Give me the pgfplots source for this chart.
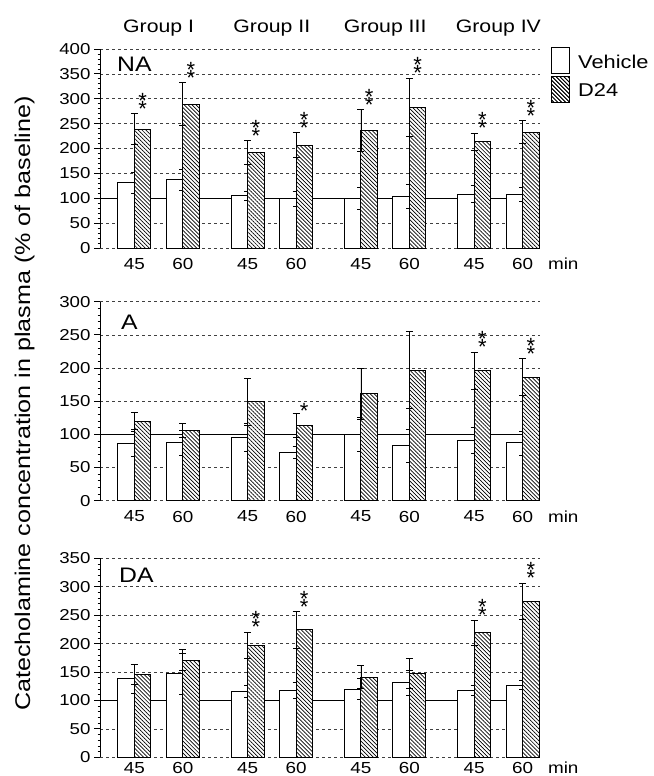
\documentclass[border=0pt]{standalone}
\usepackage{pgfplots}
\pgfplotsset{compat=1.18}
\usepackage{pgfplotstable}
\usepackage{fontspec}
\setmainfont{Liberation Sans}[FakeStretch=1.18]
\newfontfamily\starfont{Liberation Sans}
\usetikzlibrary{patterns.meta}

\pgfplotstableread{
x v ve d de
0 131 21 239 31
1 137 21 289 43
2.34 105 9 192 24
3.34 99 15 207 25
4.68 100 22 236 42
5.68 104 24 283 58
7.02 108 17 214 17
8.02 108 14 233 23
}\NAdata
\pgfplotstableread{
x v ve d de
0 86 19 120 13
1 87 19 106 11
2.34 96 21 149 35
3.34 73 9 114 18
4.68 100 26 161 38
5.68 83 25 197 58
7.02 91 20 196 28
8.02 87 18 186 28
}\Adata
\pgfplotstableread{
x v ve d de
0 138 26 146 18
1 147 36 171 18
2.34 116 10 197 23
3.34 117 14 224 32
4.68 120 18 141 20
5.68 131 22 148 26
7.02 118 9 219 22
8.02 127 8 274 32
}\DAdata

\tikzset{
  hatch/.style={pattern={Lines[angle=-45,distance=2.8pt,line width=0.7pt]}},
  star/.style={anchor=base, inner sep=0pt, font=\starfont\fontsize{22}{22}\selectfont},
}
\newcommand{\twostars}[2]{%
  \node[star, yshift=-2.6pt] at (axis cs:#1,#2) {\rlap{*}\raisebox{8pt}{*}};}
\newcommand{\onestar}[2]{%
  \node[star, yshift=-5.6pt] at (axis cs:#1,#2) {*};}

\pgfplotsset{
  panel/.style={
    scale only axis, width=440pt, height=199pt,
    xmin=-0.71, xmax=8.38, ymin=0,
    clip=false,
    axis y line*=left, axis x line*=bottom,
    x axis line style={draw=none},
    y axis line style={black, line width=0.9pt},
    xtick={0,1,2.34,3.34,4.68,5.68,7.02,8.02},
    xticklabels={45,60,45,60,45,60,45,{60\rlap{\hspace{15pt}min}}},
    xtick style={draw=none},
    xticklabel style={font=\fontsize{16}{18}\selectfont, inner sep=1pt, yshift=-3pt},
    ytick distance=50,
    minor y tick num=4,
    tick align=outside,
    major tick length=6pt, minor tick length=2.5pt,
    ytick style={black, line width=0.8pt},
    yticklabel style={font=\fontsize{15.8}{18}\selectfont},
    /pgf/number format/assume math mode=true,
    ymajorgrids,
    major grid style={black!75, line width=0.6pt, dash pattern=on 3pt off 3pt},
  },
  errs/.style={
    error bars/y dir=both, error bars/y explicit,
    error bars/error bar style={line width=0.8pt, black},
    error bars/error mark options={rotate=90, mark size=3.5pt, line width=0.8pt, black}},
  vbar/.style={ybar, bar width=0.34, bar shift=-0.17, fill=white, draw=black, line width=1pt, errs},
  dbar/.style={ybar, bar width=0.34, bar shift=0.17, fill=white, draw=black, line width=1pt,
    postaction={hatch}, errs},
}

\begin{document}
\begin{tikzpicture}
\useasboundingbox (0pt,0pt) rectangle (653pt,-776pt);

% ---------- NA ----------
\begin{axis}[panel, at={(100pt,-248pt)}, anchor=south west, ymax=400,
  legend style={at={(rel axis cs:1,1)}, anchor=north west, xshift=11pt, yshift=2pt,
    draw=none, fill=none, inner sep=0pt,
    font=\fontsize{18.5}{20}\selectfont, row sep=1.5pt, cells={anchor=west},
    /tikz/every odd column/.append style={column sep=6pt}},
  ]
\addplot[black, line width=0.7pt, forget plot] coordinates {(-0.71,100) (8.38,100)};
\addplot[legend image code/.code={\draw[black,line width=1pt,fill=white] (0pt,-11pt) rectangle (18pt,15pt);}, vbar]
  table[x=x, y=v, y error=ve] {\NAdata};
\addplot[legend image code/.code={\draw[black,line width=1pt,fill=white,postaction={hatch}] (0pt,-11pt) rectangle (18pt,15pt);}, dbar]
  table[x=x, y=d, y error=de] {\NAdata};
\legend{Vehicle, D24}
\node[anchor=north west, inner sep=0pt, font=\fontsize{21}{22}\selectfont, xshift=17pt, yshift=-8pt] at (rel axis cs:0,1) {NA};
\node[anchor=base, font=\fontsize{18}{20}\selectfont, yshift=17pt] at (axis cs:0.5,400) {Group I};
\node[anchor=base, font=\fontsize{18}{20}\selectfont, yshift=17pt] at (axis cs:2.84,400) {Group II};
\node[anchor=base, font=\fontsize{18}{20}\selectfont, yshift=17pt] at (axis cs:5.18,400) {Group III};
\node[anchor=base, font=\fontsize{18}{20}\selectfont, yshift=17pt] at (axis cs:7.52,400) {Group IV};
\twostars{0.17}{270}
\twostars{1.17}{332}
\twostars{2.51}{216}
\twostars{3.51}{232}
\twostars{4.85}{278}
\twostars{5.85}{341}
\twostars{7.19}{231}
\twostars{8.19}{256}
\end{axis}

% ---------- A ----------
\begin{axis}[panel, at={(100pt,-500.7pt)}, anchor=south west, ymax=300]
\addplot[black, line width=0.7pt] coordinates {(-0.71,100) (8.38,100)};
\addplot[vbar] table[x=x, y=v, y error=ve] {\Adata};
\addplot[dbar] table[x=x, y=d, y error=de] {\Adata};
\node[anchor=north west, inner sep=0pt, font=\fontsize{21}{22}\selectfont, xshift=21pt, yshift=-13pt] at (rel axis cs:0,1) {A};
\onestar{3.51}{132}
\twostars{7.19}{224}
\twostars{8.19}{214}
\end{axis}

% ---------- DA ----------
\begin{axis}[panel, at={(100pt,-757.3pt)}, anchor=south west, ymax=350,
  xticklabel style={yshift=5.3pt}]
\addplot[black, line width=0.7pt] coordinates {(-0.71,100) (8.38,100)};
\addplot[vbar] table[x=x, y=v, y error=ve] {\DAdata};
\addplot[dbar] table[x=x, y=d, y error=de] {\DAdata};
\node[anchor=north west, inner sep=0pt, font=\fontsize{21}{22}\selectfont, xshift=19pt, yshift=-10pt] at (rel axis cs:0,1) {DA};
\twostars{2.51}{220}
\twostars{3.51}{256}
\twostars{7.19}{241}
\twostars{8.19}{306}
\end{axis}

\node[rotate=90, anchor=base, font=\fontsize{21.3}{24}\selectfont] at (30pt,-403.5pt)
  {Catecholamine concentration in plasma (\% of baseline)};
\end{tikzpicture}
\end{document}
